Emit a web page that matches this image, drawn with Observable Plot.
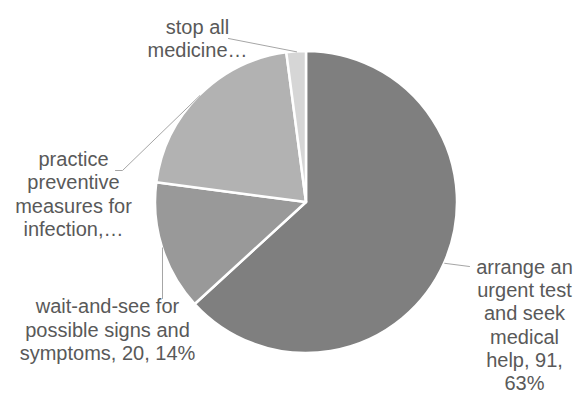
<!DOCTYPE html>
<html>
<head>
<meta charset="utf-8">
<script src="https://cdn.jsdelivr.net/npm/d3@7"></script>
<script src="https://cdn.jsdelivr.net/npm/@observablehq/plot@0.6"></script>
<style>
  html, body { margin: 0; padding: 0; background: #fff; }
</style>
</head>
<body>
<div id="chart"></div>
<script>
// ---- data ----
const categories = [
  "arrange an urgent test and seek medical help",
  "wait-and-see for possible signs and symptoms",
  "practice preventive measures for infection, ...",
  "stop all medicine ..."
];
const counts = [91, 20, 30, 3];
const labelTexts = [
  "arrange an\nurgent test\nand seek\nmedical\nhelp, 91,\n63%",
  "wait-and-see for\npossible signs and\nsymptoms, 20, 14%",
  "practice\npreventive\nmeasures for\ninfection,…",
  "stop all\nmedicine…"
];

// ---- layout / style ----
const colors = ["#7f7f7f", "#999999", "#b2b2b2", "#d6d6d6"];
const CX = 306, CY = 202, R = 151;
const labelPos = [[524, 324], [107, 328.5], [73, 193], [197, 37.5]];
const leaderEnds = [
  [[469, 266]],
  [[162, 298]],
  [[122, 170], [115, 170]],
  [[228, 38]]
];

const slices = categories.map((c, i) => ({category: c, count: counts[i], label: labelTexts[i], i}));
const arcs = d3.pie().sort(null).value(d => d.count).startAngle(0)(slices);

// leader line points: start at slice mid-angle on the rim
const leaderRows = [];
arcs.forEach((a, i) => {
  const m = (a.startAngle + a.endAngle) / 2;
  leaderRows.push({slice: i, x: CX + R * Math.sin(m), y: CY - R * Math.cos(m)});
  leaderEnds[i].forEach(([x, y]) => leaderRows.push({slice: i, x, y}));
});

const labels = slices.map((d, i) => ({...d, x: labelPos[i][0], y: labelPos[i][1]}));

const pieMark = (index, scales) => {
  const {x, y} = scales;
  const g = d3.create("svg:g")
    .attr("transform", `translate(${x(CX)},${y(CY)})`);
  const arc = d3.arc().innerRadius(0).outerRadius(x(CX + R) - x(CX));
  g.selectAll("path").data(arcs).join("path")
    .attr("d", arc)
    .attr("fill", d => colors[d.data.i])
    .attr("stroke", "white")
    .attr("stroke-width", 2.5)
    .attr("stroke-linejoin", "round");
  return g.node();
};

const chart = Plot.plot({
  width: 576,
  height: 394,
  margin: 0,
  x: {domain: [0, 576], range: [0, 576], axis: null},
  y: {domain: [0, 394], range: [0, 394], axis: null},
  style: {background: "white", fontFamily: "'Liberation Sans', Arial, sans-serif"},
  marks: [
    pieMark,
    Plot.line(leaderRows, {x: "x", y: "y", z: "slice", stroke: "#a6a6a6", strokeWidth: 1}),
    Plot.text(labels, {
      x: "x", y: "y", text: "label",
      fill: "#595959", fontSize: 20, lineHeight: 1.17,
      textAnchor: "middle", lineAnchor: "middle"
    })
  ]
});
document.getElementById("chart").appendChild(chart);
</script>
</body>
</html>
